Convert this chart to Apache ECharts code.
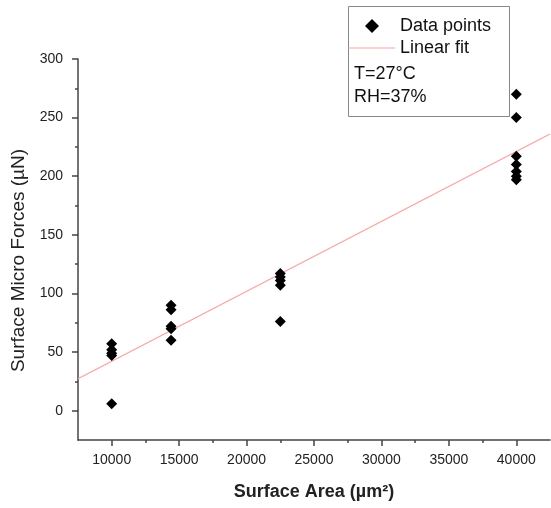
<!DOCTYPE html>
<html>
<head>
<meta charset="utf-8">
<script src="https://cdn.jsdelivr.net/npm/echarts@6/dist/echarts.min.js"></script>
<style>html,body{margin:0;padding:0;background:#fff}#c{width:551px;height:508px}</style>
</head>
<body>
<div id="c"></div>
<script>
// Data
const area10000 = [57, 52, 49, 47, 6];
const area14400 = [90, 86, 72, 70, 60];
const area22500 = [117, 114, 111, 107, 76];
const area40000 = [270, 250, 217, 210, 204, 200, 197];
const areas = [10000, 14400, 22500, 40000];
const forces = [area10000, area14400, area22500, area40000];
const fitX = [7500, 42500];
const fitY = [27.3, 236];
const xTicks = [10000, 15000, 20000, 25000, 30000, 35000, 40000];
const xMinorTicks = [12500, 17500, 22500, 27500, 32500, 37500];
const yTicks = [0, 50, 100, 150, 200, 250, 300];
const yMinorTicks = [25, 75, 125, 175, 225, 275];
const xRange = [7500, 42500];
const yRange = [-25, 300];
const noteLines = ['T=27°C', 'RH=37%'];

const points = [];
areas.forEach((a, i) => forces[i].forEach(f => points.push([a, f])));
const fitData = fitX.map((x, i) => [x, fitY[i]]);

const FONT = 'Liberation Sans, Arial, sans-serif';
const axisColor = '#444';
const pink = '#ffa0a0';
const plain = v => String(v);
const chart = echarts.init(document.getElementById('c'), null, {renderer: 'canvas'});
chart.setOption({
  animation: false,
  backgroundColor: '#fff',
  grid: {left: 78, right: 1, top: 59, bottom: 68, containLabel: false},
  xAxis: [{
    type: 'value', min: xRange[0], max: xRange[1],
    axisLine: {show: true, onZero: false, lineStyle: {color: axisColor, width: 1.5}},
    axisTick: {show: true, length: 6, customValues: xTicks, lineStyle: {color: axisColor, width: 1.5}},
    axisLabel: {show: true, customValues: xTicks, formatter: plain, margin: 13, fontSize: 14, color: '#222', fontFamily: FONT},
    splitLine: {show: false},
    name: 'Surface Area (µm²)', nameLocation: 'middle', nameGap: 43,
    nameTextStyle: {fontSize: 18, fontWeight: 'bold', color: '#222', fontFamily: FONT}
  }, {
    type: 'value', min: xRange[0], max: xRange[1], position: 'bottom',
    axisLine: {show: false, onZero: false},
    axisTick: {show: true, length: 3, customValues: xMinorTicks, lineStyle: {color: axisColor, width: 1.5}},
    axisLabel: {show: false}, splitLine: {show: false}
  }],
  yAxis: [{
    type: 'value', min: yRange[0], max: yRange[1],
    axisLine: {show: true, onZero: false, lineStyle: {color: axisColor, width: 1.5}},
    axisTick: {show: true, length: 6, customValues: yTicks, lineStyle: {color: axisColor, width: 1.5}},
    axisLabel: {show: true, customValues: yTicks, formatter: plain, margin: 15, fontSize: 14, color: '#222', fontFamily: FONT},
    splitLine: {show: false},
    name: 'Surface Micro Forces (µN)', nameLocation: 'middle', nameGap: 43, nameRotate: 90,
    nameTextStyle: {fontSize: 19, color: '#222', fontFamily: FONT, padding: [0, 22, 0, 0]}
  }, {
    type: 'value', min: yRange[0], max: yRange[1], position: 'left',
    axisLine: {show: false, onZero: false},
    axisTick: {show: true, length: 3, customValues: yMinorTicks, lineStyle: {color: axisColor, width: 1.5}},
    axisLabel: {show: false}, splitLine: {show: false}
  }],
  legend: [{
    orient: 'vertical', left: 360, top: 12, itemWidth: 14, itemHeight: 14,
    textStyle: {fontSize: 18, color: '#111', fontFamily: FONT, padding: [0, 0, 0, 16]},
    data: [{name: 'Data points', icon: 'diamond'}]
  }, {
    orient: 'vertical', left: 343, top: 34, itemWidth: 47, itemHeight: 14,
    textStyle: {fontSize: 18, color: '#111', fontFamily: FONT},
    data: [{name: 'Linear fit', icon: 'path://M0,6.4H47V7.6H0Z', itemStyle: {color: pink}}]
  }],
  graphic: [
    {type: 'rect', left: 346, top: 4, shape: {width: 161, height: 110}, style: {fill: 'none', stroke: '#888', lineWidth: 1}, z: 1},
    {type: 'text', left: 354, top: 65, style: {text: noteLines[0], fontSize: 18, fill: '#111', fontFamily: FONT}},
    {type: 'text', left: 354, top: 88, style: {text: noteLines[1], fontSize: 18, fill: '#111', fontFamily: FONT}}
  ],
  series: [{
    name: 'Linear fit', type: 'line', data: fitData, showSymbol: false, symbol: 'none',
    lineStyle: {color: pink, width: 1.2}, itemStyle: {color: pink}, z: 2
  }, {
    name: 'Data points', type: 'scatter', data: points, symbol: 'diamond', symbolSize: 11,
    itemStyle: {color: '#000', opacity: 1}, z: 3
  }]
});
</script>
</body>
</html>
